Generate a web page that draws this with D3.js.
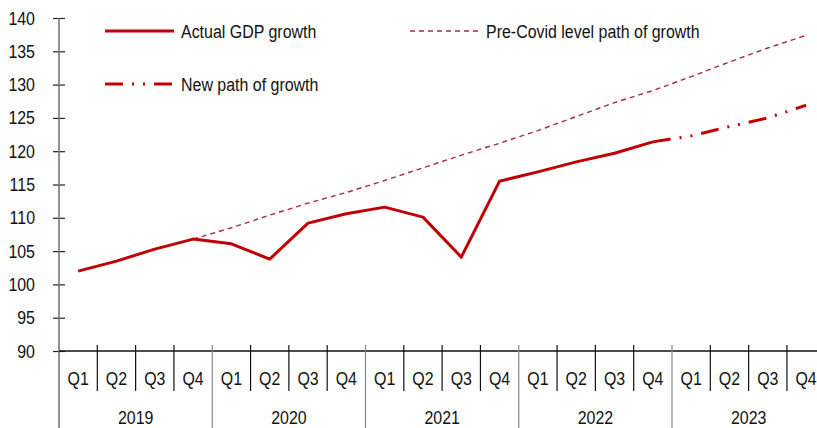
<!DOCTYPE html>
<html>
<head>
<meta charset="utf-8">
<script src="https://cdn.jsdelivr.net/npm/d3@7"></script>
<style>
  html, body { margin: 0; padding: 0; background: #fff; }
  svg { display: block; font-family: "Liberation Sans", Arial, sans-serif; }
</style>
</head>
<body>
<svg id="chart" width="817" height="428"></svg>
<script>
// Quarterly GDP index, 2019 Q1 – 2023 Q4
const years = ["2019", "2020", "2021", "2022", "2023"];
const quarters = ["Q1", "Q2", "Q3", "Q4"];
const periods = years.flatMap(y => quarters.map(q => y + " " + q));

// Actual GDP (2019 Q1 – 2022 Q4)
const actualGdp = [102.0, 103.5, 105.3, 106.8, 106.1, 103.8, 109.2, 110.6,
                   111.6, 110.1, 104.1, 115.5, 116.9, 118.4, 119.7, 121.4];
// Pre-Covid trend (2019 Q4 – 2023 Q4)
const preCovidPath = [106.8, 108.5, 110.4, 112.2, 113.8, 115.6, 117.5, 119.4, 121.2,
                      123.1, 125.2, 127.3, 129.1, 131.2, 133.4, 135.5, 137.4];
const preCovidStart = 3;
// Projected path (2022 Q4 – 2023 Q4)
const newPath = [121.4, 122.3, 123.7, 125.0, 126.9];
const newPathStart = 15;

const yTicks = [90, 95, 100, 105, 110, 115, 120, 125, 130, 135, 140];

const seriesLabels = ["Actual GDP growth", "Pre-Covid level path of growth", "New path of growth"];

const svg = d3.select("#chart");
const red = "#c00000";
const dashRed = "#a82a3c";
const FONT = 19, NARROW = 0.84;

// condensed text: regular sans squeezed horizontally
function label(parent, x, y, text, anchor) {
  return parent.append("text")
    .attr("transform", `translate(${x},${y}) scale(${NARROW},1)`)
    .attr("text-anchor", anchor || "start")
    .attr("font-size", FONT).attr("fill", "#111").text(text);
}

const x = d3.scaleBand().domain(periods).range([59, 825.25]).paddingInner(0).paddingOuter(0);
const y = d3.scaleLinear().domain([90, 140]).range([351, 18]);
const cx = i => x(periods[i]) + x.bandwidth() / 2;

// y axis: ticks cross the axis line
const yAxis = svg.append("g").attr("transform", "translate(59,0)")
  .call(d3.axisLeft(y).tickValues(yTicks).tickSize(6).tickFormat(""));
yAxis.select(".domain").remove();
yAxis.selectAll(".tick line").attr("x1", -6).attr("x2", 6).attr("stroke", "#222").attr("stroke-width", 1.2);
yTicks.forEach(t => label(svg, 35, y(t) + 6.5, String(t), "end"));
svg.append("line").attr("x1", 59).attr("x2", 59).attr("y1", 18).attr("y2", 428)
  .attr("stroke", "#777").attr("stroke-width", 1.6);

// x axis baseline
svg.append("line").attr("x1", 59).attr("x2", 817).attr("y1", y(90)).attr("y2", y(90))
  .attr("stroke", "#111").attr("stroke-width", 1.3);

// quarter and year dividers with labels
const axisG = svg.append("g");
periods.forEach((p, i) => {
  const left = x(p);
  const isYear = i % 4 === 0;
  if (i > 0) {
    axisG.append("line").attr("x1", left).attr("x2", left)
      .attr("y1", y(90) - 6).attr("y2", isYear ? 428 : 391)
      .attr("stroke", isYear ? "#888" : "#111").attr("stroke-width", 1.2);
  }
  label(axisG, cx(i), 385, quarters[i % 4], "middle");
});
years.forEach((yr, k) => {
  const mid = (x(periods[k * 4]) + x(periods[k * 4 + 3]) + x.bandwidth()) / 2;
  label(axisG, mid, 424, yr, "middle");
});

const line = d3.line().x(d => cx(d.i)).y(d => y(d.v));

// pre-Covid trend
svg.append("path")
  .datum(preCovidPath.map((v, k) => ({ i: preCovidStart + k, v })))
  .attr("d", line).attr("fill", "none").attr("stroke", dashRed)
  .attr("stroke-width", 1.4).attr("stroke-dasharray", "5,4");

// projected path
svg.append("path")
  .datum(newPath.map((v, k) => ({ i: newPathStart + k, v })))
  .attr("d", line).attr("fill", "none").attr("stroke", red)
  .attr("stroke-width", 3).attr("stroke-dasharray", "18,9,2,9,2,9");

// actual GDP
svg.append("path")
  .datum(actualGdp.map((v, i) => ({ i, v })))
  .attr("d", line).attr("fill", "none").attr("stroke", red)
  .attr("stroke-width", 3).attr("stroke-linejoin", "round");

// legend
const legend = [
  { label: seriesLabels[0], x: 105, y: 31, color: red, width: 3, dash: null },
  { label: seriesLabels[1], x: 410, y: 31, color: dashRed, width: 1.4, dash: "5,4" },
  { label: seriesLabels[2], x: 105, y: 84, color: red, width: 3, dash: "18,9,2,9,2,9" }
];
legend.forEach(l => {
  svg.append("line").attr("x1", l.x).attr("x2", l.x + 69).attr("y1", l.y).attr("y2", l.y)
    .attr("stroke", l.color).attr("stroke-width", l.width)
    .attr("stroke-dasharray", l.dash);
  label(svg, l.x + 76, l.y + 6.5, l.label, "start");
});
</script>
</body>
</html>
